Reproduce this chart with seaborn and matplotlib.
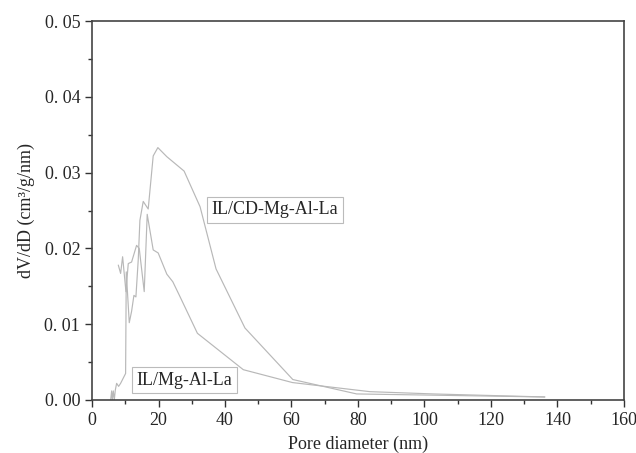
import numpy as np
import pandas as pd
import matplotlib
matplotlib.use("Agg")
import matplotlib.pyplot as plt
from matplotlib.ticker import MultipleLocator, FuncFormatter
import seaborn as sns

# Pore size distributions
cd_x = [5.6, 5.9, 6.1, 6.4, 6.7, 7.0, 7.4, 8.0, 8.6, 10.1, 10.3, 11.2, 11.9, 12.6, 13.2,
        13.9, 14.4, 15.4, 16.9, 18.4, 19.8, 22.5, 27.7, 32.5, 37.3, 46.0, 60.4, 79.6, 136.2]
cd_y = [0.0, 0.0012, 0.0, 0.0012, 0.0, 0.0013, 0.0022, 0.0018, 0.0022, 0.0035, 0.0169,
        0.0102, 0.0117, 0.0138, 0.0136, 0.0185, 0.0237, 0.0262, 0.0252, 0.0322, 0.0333,
        0.0321, 0.0302, 0.0255, 0.0173, 0.0095, 0.0027, 0.0008, 0.0004]

mg_x = [7.9, 8.6, 9.2, 10.2, 10.9, 11.9, 13.4, 14.2, 15.7, 16.6, 18.4, 19.9, 22.5, 24.3,
        26.5, 31.7, 45.5, 60.3, 70.0, 83.6, 102.6, 136.2]
mg_y = [0.0178, 0.0167, 0.0189, 0.0143, 0.0180, 0.0182, 0.0204, 0.0200, 0.0143, 0.0245,
        0.0198, 0.0194, 0.0166, 0.0156, 0.0136, 0.0088, 0.0040, 0.0023, 0.0018, 0.0011,
        0.0008, 0.0004]

df = pd.concat([
    pd.DataFrame({"d": cd_x, "v": cd_y, "sample": "IL/CD-Mg-Al-La"}),
    pd.DataFrame({"d": mg_x, "v": mg_y, "sample": "IL/Mg-Al-La"}),
])

sns.set_style("ticks")
plt.rcParams["font.family"] = ["Liberation Serif", "DejaVu Serif"]

fig = plt.figure(figsize=(6.36, 4.53), dpi=100)
ax = fig.add_axes([0.1447, 0.117, 0.8363, 0.8366])

sns.lineplot(data=df, x="d", y="v", hue="sample", units="sample", estimator=None,
             sort=False, palette=["#b8b8b8", "#b8b8b8"], linewidth=0.85,
             legend=False, ax=ax)

ax.set_xlim(0, 160)
ax.set_ylim(0, 0.05)
ax.xaxis.set_major_locator(MultipleLocator(20))
ax.xaxis.set_minor_locator(MultipleLocator(10))
ax.yaxis.set_major_locator(MultipleLocator(0.01))
ax.yaxis.set_minor_locator(MultipleLocator(0.005))
ax.yaxis.set_major_formatter(FuncFormatter(lambda v, p: "0. %02d" % round(v * 100)))
ax.tick_params(which="both", direction="out", top=False, right=False,
               color="#333333", width=1.0, labelsize=13)
ax.tick_params(which="major", length=5)
ax.tick_params(which="minor", length=3)
for s in ax.spines.values():
    s.set_color("#444444")
    s.set_linewidth(1.2)

ax.set_xlabel("Pore diameter (nm)", fontsize=13, labelpad=5)
ax.set_ylabel("dV/dD (cm³/g/nm)", fontsize=13, labelpad=7)

box = dict(boxstyle="square,pad=0.25", fc="white", ec="#bbbbbb", lw=0.8)
ax.text(55, 0.0251, "IL/CD-Mg-Al-La", fontsize=13, ha="center", va="center", bbox=box)
ax.text(27.7, 0.0026, "IL/Mg-Al-La", fontsize=13, ha="center", va="center", bbox=box)

fig.savefig("out.png", dpi=100)
